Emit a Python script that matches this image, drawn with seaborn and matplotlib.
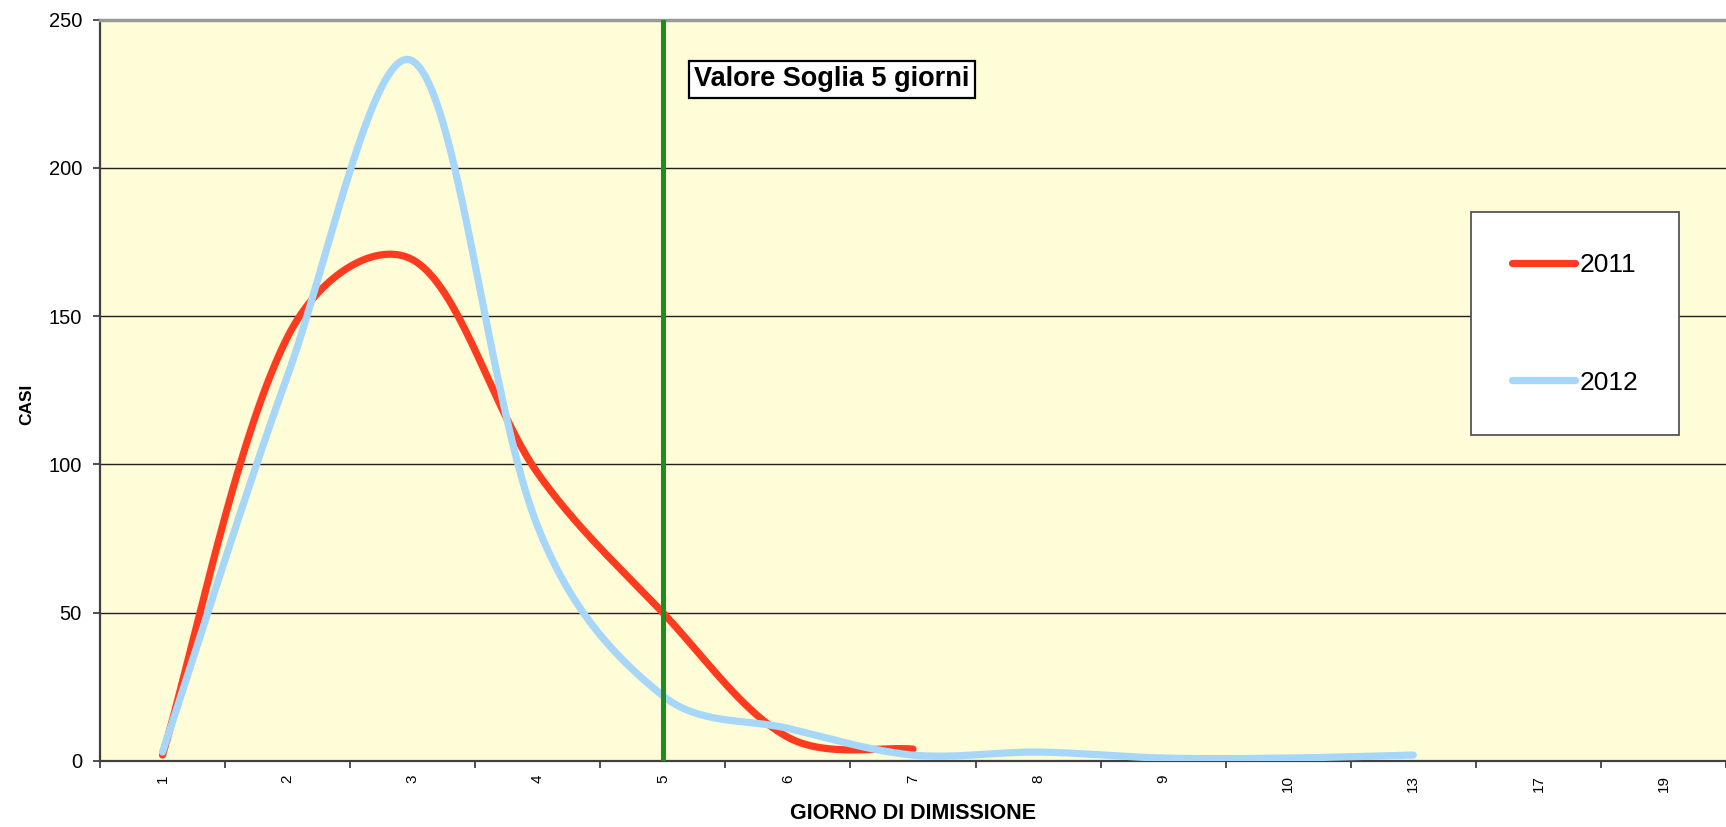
import numpy as np
import pandas as pd
import seaborn as sns
from matplotlib import pyplot as plt

# giorni di dimissione (categorie dell'asse x)
giorni = ["1", "2", "3", "4", "5", "6", "7", "8", "9", "10", "13", "17", "19"]
# casi per giorno di dimissione
casi_2011 = [2, 143, 169, 97, 50, 8, 4]
casi_2012 = [3, 130, 236, 79, 22, 11, 2, 3, 1, 1, 2]
soglia = "5"

COL_2011 = "#FF3B1F"
COL_2012 = "#A6D7F8"
COL_SOGLIA = "#1E8C1E"
SFONDO = "#FFFCD8"

# scala approssimativa in pixel (categoria, unita' di casi) per lo smussamento
PX_X, PX_Y = 125.0, 2.97


def smooth(xs, ys, n=40):
    # bezier stile "linea smussata" di Excel: media tra tangenti uniformi e pesate sulle corde
    pts = np.column_stack([xs, ys]).astype(float)
    padded = np.vstack([pts[0], pts, pts[-1]])
    scale = np.array([PX_X, PX_Y])
    t = np.linspace(0, 1, n)[:, None]
    out = []
    for i in range(len(pts) - 1):
        p0, p1, p2, p3 = padded[i], padded[i + 1], padded[i + 2], padded[i + 3]
        d01 = np.hypot(*((p1 - p0) * scale))
        d12 = np.hypot(*((p2 - p1) * scale))
        d23 = np.hypot(*((p3 - p2) * scale))
        f1 = d12 / (d01 + d12) / 3 if d01 + d12 > 0 else 0
        f2 = d12 / (d12 + d23) / 3 if d12 + d23 > 0 else 0
        f1 = 0.5 * (f1 + 1 / 6)
        f2 = 0.5 * (f2 + 1 / 6)
        c1 = p1 + (p2 - p0) * f1
        c2 = p2 - (p3 - p1) * f2
        seg = (1 - t) ** 3 * p1 + 3 * (1 - t) ** 2 * t * c1 + 3 * (1 - t) * t ** 2 * c2 + t ** 3 * p2
        out.append(seg if i == 0 else seg[1:])
    return np.vstack(out)


frames = []
for anno, valori in [("2011", casi_2011), ("2012", casi_2012)]:
    curve = smooth(np.arange(len(valori)), valori)
    frames.append(pd.DataFrame({"x": curve[:, 0], "casi": curve[:, 1], "anno": anno}))
df = pd.concat(frames, ignore_index=True)

sns.set_style("white")
plt.rcParams["font.family"] = ["Liberation Sans", "DejaVu Sans"]
for key in ["text.color", "axes.labelcolor", "xtick.labelcolor", "ytick.labelcolor"]:
    plt.rcParams[key] = "black"

fig = plt.figure(figsize=(17.26, 8.27), dpi=100)
ax = fig.add_axes([100 / 1726, 66 / 827, 1626 / 1726, 741.5 / 827])
ax.set_facecolor(SFONDO)

sns.lineplot(data=df, x="x", y="casi", hue="anno", hue_order=["2011", "2012"],
             palette={"2011": COL_2011, "2012": COL_2012}, sort=False, estimator=None,
             linewidth=5.2, ax=ax, zorder=3)
for line in ax.get_lines():
    line.set_solid_capstyle("round")

ax.axvline(giorni.index(soglia), color=COL_SOGLIA, linewidth=3.6, zorder=4)

ax.set_xlim(-0.5, len(giorni) - 0.5)
ax.set_ylim(0, 250)
ax.set_yticks(np.arange(0, 251, 50))
ax.yaxis.grid(True, color="#202020", linewidth=1.0)
ax.set_axisbelow(True)

# tacche tra le categorie, etichette al centro
ax.set_xticks(np.arange(-0.5, len(giorni), 1))
ax.set_xticklabels([])
ax.set_xticks(np.arange(len(giorni)), minor=True)
ax.set_xticklabels(giorni, minor=True, rotation=90, fontsize=11)
ax.tick_params(axis="x", which="major", length=5, width=1.2, color="#333333", bottom=True)
ax.tick_params(axis="x", which="minor", length=0, pad=10)
ax.tick_params(axis="y", length=5, width=1.2, color="#333333", labelsize=14.5, pad=8, left=True)

for side in ["left", "bottom"]:
    ax.spines[side].set_color("#404040")
    ax.spines[side].set_linewidth(1.6)
ax.spines["top"].set_color("#999999")
ax.spines["top"].set_linewidth(2.5)
ax.spines["right"].set_visible(False)

ax.set_xlabel("GIORNO DI DIMISSIONE", fontsize=15.5, fontweight="bold")
ax.set_ylabel("CASI", fontsize=12.5, fontweight="bold")
ax.xaxis.set_label_coords(0.5, -0.056)
ax.yaxis.set_label_coords(-0.0405, 0.481)

ax.text(0.3653, 0.937, "Valore Soglia " + soglia + " giorni", transform=ax.transAxes,
        fontsize=19.5, fontweight="bold", ha="left", va="top", zorder=5,
        bbox=dict(boxstyle="square,pad=0.2", facecolor="white", edgecolor="black", linewidth=1.6))

handles, labels = ax.get_legend_handles_labels()
leg = ax.legend(handles, labels, loc="upper left", bbox_to_anchor=(0.8432, 0.7404),
                borderaxespad=0, fontsize=19, frameon=True, fancybox=False,
                framealpha=1, edgecolor="#555555", borderpad=1.55, labelspacing=3.55,
                handlelength=2.4, handletextpad=0.15)
leg.get_frame().set_linewidth(1.3)
for h in leg.get_lines():
    h.set_linewidth(5.2)
    h.set_solid_capstyle("round")

fig.savefig("out.png", dpi=100, facecolor="white")
